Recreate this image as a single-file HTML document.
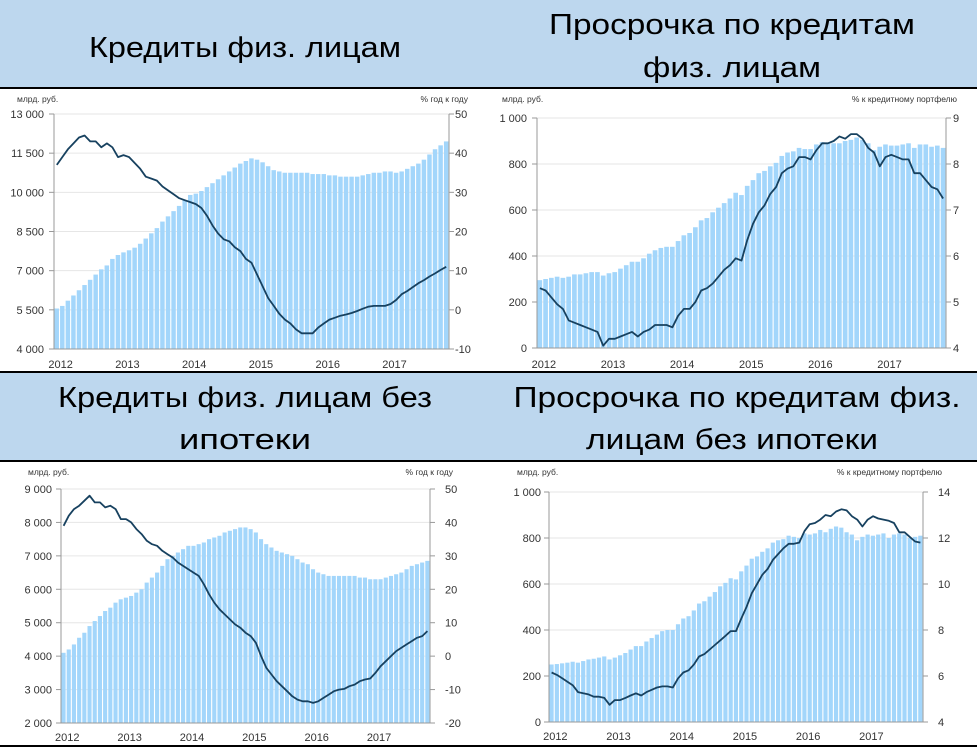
<!DOCTYPE html>
<html><head><meta charset="utf-8"><style>
html,body{margin:0;padding:0;background:#fff;}
svg{display:block;font-family:"Liberation Sans","DejaVu Sans",sans-serif;}
</style></head><body>
<svg id="root" width="977" height="747" viewBox="0 0 977 747" xmlns="http://www.w3.org/2000/svg">
<rect x="0" y="0" width="977" height="88" fill="#bdd7ee"/>
<rect x="0" y="372" width="977" height="89" fill="#bdd7ee"/>
<line x1="0" y1="88" x2="977" y2="88" stroke="#000" stroke-width="2"/>
<line x1="0" y1="372" x2="977" y2="372" stroke="#000" stroke-width="2"/>
<line x1="0" y1="461" x2="977" y2="461" stroke="#000" stroke-width="2"/>
<line x1="0" y1="746" x2="977" y2="746" stroke="#000" stroke-width="2"/>
<text x="245" y="57" font-size="29" text-anchor="middle" textLength="312" lengthAdjust="spacingAndGlyphs" fill="#000">Кредиты физ. лицам</text>
<text x="732" y="34" font-size="29" text-anchor="middle" textLength="366" lengthAdjust="spacingAndGlyphs" fill="#000">Просрочка по кредитам</text>
<text x="732" y="77" font-size="29" text-anchor="middle" textLength="178" lengthAdjust="spacingAndGlyphs" fill="#000">физ. лицам</text>
<text x="245" y="407" font-size="29" text-anchor="middle" textLength="374" lengthAdjust="spacingAndGlyphs" fill="#000">Кредиты физ. лицам без</text>
<text x="245" y="449" font-size="29" text-anchor="middle" textLength="132" lengthAdjust="spacingAndGlyphs" fill="#000">ипотеки</text>
<text x="737" y="407" font-size="29" text-anchor="middle" textLength="447" lengthAdjust="spacingAndGlyphs" fill="#000">Просрочка по кредитам физ.</text>
<text x="732" y="449" font-size="29" text-anchor="middle" textLength="292" lengthAdjust="spacingAndGlyphs" fill="#000">лицам без ипотеки</text>
</svg>
<script>
const years = ["2012","2013","2014","2015","2016","2017"];

const p1Bars = [5550,5650,5850,6050,6250,6450,6650,6850,7050,7200,7450,7600,
7700,7780,7880,8030,8230,8430,8630,8880,9080,9280,9480,9700,
9900,9950,10050,10200,10350,10500,10650,10800,10950,11100,11200,11300,
11250,11150,11000,10850,10800,10750,10750,10750,10750,10750,10700,10700,
10700,10650,10650,10600,10600,10600,10600,10650,10700,10750,10750,10800,
10800,10750,10800,10900,11000,11100,11250,11450,11650,11800,11950];
const p1Line = [37,39,41,42.5,44,44.5,43,43,41.5,42.5,41.5,39,
39.5,39,37.5,36,34,33.5,33,31.5,30.5,29.5,28.5,28,
27.5,27,26,24,21.5,19.5,18,17.5,16,15,13,12,
9,6,3,1,-1,-2.5,-3.5,-5,-6,-6,-6,-4.5,
-3.5,-2.5,-2,-1.5,-1.2,-0.8,-0.3,0.3,0.8,1,1,1,
1.5,2.5,4,4.8,5.8,6.8,7.6,8.5,9.3,10.2,11];
const p1LeftTicks = [4000,5500,7000,8500,10000,11500,13000];
const p1LeftLabels = ["4 000","5 500","7 000","8 500","10 000","11 500","13 000"];
const p1RightTicks = [-10,0,10,20,30,40,50];

const p2Bars = [295,300,305,310,305,310,320,320,325,330,330,315,
325,330,345,360,375,375,390,410,425,435,440,440,
465,490,500,525,555,565,590,610,630,650,675,665,
705,730,760,770,790,805,835,850,855,870,865,865,
885,895,890,890,890,900,905,915,905,890,860,875,
885,880,880,885,890,870,885,885,875,880,870];
const p2Line = [5.3,5.25,5.1,4.95,4.85,4.6,4.55,4.5,4.45,4.4,4.35,4.05,
4.2,4.2,4.25,4.3,4.35,4.25,4.35,4.4,4.5,4.5,4.5,4.45,
4.7,4.85,4.85,5.0,5.25,5.3,5.4,5.55,5.7,5.8,5.95,5.9,
6.35,6.7,6.95,7.1,7.35,7.5,7.8,7.9,7.95,8.15,8.15,8.1,
8.3,8.45,8.45,8.5,8.6,8.55,8.65,8.65,8.55,8.35,8.25,7.95,
8.15,8.2,8.15,8.1,8.1,7.8,7.8,7.65,7.5,7.45,7.25];
const p2LeftTicks = [0,200,400,600,800,1000];
const p2LeftLabels = ["0","200","400","600","800","1 000"];
const p2RightTicks = [4,5,6,7,8,9];

const p3Bars = [4100,4200,4350,4550,4700,4900,5050,5200,5350,5450,5600,5700,
5750,5800,5900,6000,6200,6350,6500,6700,6900,7000,7100,7200,
7300,7300,7350,7400,7500,7550,7600,7700,7750,7800,7850,7850,
7800,7700,7500,7350,7250,7150,7100,7050,7000,6900,6800,6750,
6600,6500,6450,6400,6400,6400,6400,6400,6400,6350,6350,6300,
6300,6300,6350,6400,6450,6500,6600,6700,6750,6800,6850];
const p3Line = [39,42,44,45,46.5,48,46,46,44.5,45,44,41,
41,40,38,36.5,34.5,33.5,33,31.5,30.5,29.5,28,27,
26,25,24,21.5,18.5,16,14,12.5,11,9.5,8.5,7,
6,4,0,-3.5,-5.5,-7.5,-9,-10.5,-12,-13,-13.5,-13.5,
-14,-13.5,-12.5,-11.5,-10.5,-10,-9.8,-9,-8.5,-7.5,-7,-6.7,
-5,-3,-1.5,0,1.5,2.5,3.5,4.5,5.5,6,7.5];
const p3LeftTicks = [2000,3000,4000,5000,6000,7000,8000,9000];
const p3LeftLabels = ["2 000","3 000","4 000","5 000","6 000","7 000","8 000","9 000"];
const p3RightTicks = [-20,-10,0,10,20,30,40,50];

const p4Bars = [250,252,255,258,262,258,265,272,275,280,285,272,
280,290,300,315,330,330,350,365,380,395,400,400,
425,450,460,485,515,525,545,565,590,605,625,620,
655,680,710,720,740,755,780,790,795,810,805,800,
820,815,820,835,825,840,850,845,825,815,790,805,
815,810,815,820,800,815,820,815,800,805,810];
const p4Line = [6.15,6.05,5.9,5.75,5.6,5.3,5.25,5.2,5.1,5.1,5.05,4.75,
4.95,4.95,5.05,5.15,5.25,5.15,5.3,5.4,5.5,5.55,5.55,5.5,
5.9,6.15,6.25,6.5,6.85,6.95,7.15,7.35,7.55,7.75,7.95,7.95,
8.5,9.0,9.6,10.0,10.4,10.65,11.05,11.3,11.55,11.75,11.75,11.8,
12.3,12.6,12.65,12.8,13.0,12.95,13.15,13.25,13.2,12.95,12.8,12.5,
12.8,12.95,12.85,12.8,12.75,12.65,12.25,12.25,12.05,11.85,11.8];
const p4LeftTicks = [0,200,400,600,800,1000];
const p4LeftLabels = ["0","200","400","600","800","1 000"];
const p4RightTicks = [4,6,8,10,12,14];

const NS = "http://www.w3.org/2000/svg";
const root = document.getElementById('root');
function mk(tag, attrs, parent){
  const e = document.createElementNS(NS, tag);
  for (const k in attrs) e.setAttribute(k, attrs[k]);
  parent.appendChild(e);
  return e;
}
function drawChart(c, bars, line, lt, ll, rt){
  const g = mk('g', {}, root);
  
  
  const n = bars.length;
  const bw = (c.x1 - c.x0) / n;
  const xB = i => c.x0 + i * bw;
  const yL = v => c.y1 - (v - c.lmin) / (c.lmax - c.lmin) * (c.y1 - c.y0);
  const yR = v => c.y1 - (v - c.rmin) / (c.rmax - c.rmin) * (c.y1 - c.y0);
  lt.forEach((t, i) => {
    const y = yL(t);
    if (i > 0) {
      const gl = mk('line', {x1:c.x0, x2:c.x1, y1:y, y2:y, stroke:'#e6e6e6', 'stroke-width':1}, g);
      
      
    }
    const tk = mk('line', {x1:c.x0-5, x2:c.x0, y1:y, y2:y, stroke:'#999', 'stroke-width':1}, g);
    
    
    const tx = mk('text', {x:c.lx, y:y+4, 'font-size':11, 'text-anchor':'end', fill:'#333'}, g);
    
    
    tx.textContent = ll[i];
  });
  rt.forEach(t => {
    const y = yR(t);
    const tk = mk('line', {x1:c.x1, x2:c.x1+5, y1:y, y2:y, stroke:'#999', 'stroke-width':1}, g);
    
    
    const tx = mk('text', {x:c.rx, y:y+4, 'font-size':11, fill:'#333'}, g);
    
    
    tx.textContent = String(t);
  });
  bars.forEach((v, i) => {
    const y = yL(v);
    const r = mk('rect', {x:xB(i)+0.5, y:y, width:bw-1.1, height:c.y1-y, fill:'#a3d6fb'}, g);
    
    
  });
  const pts = line.map((v, i) => (xB(i)+bw/2).toFixed(1) + ',' + yR(v).toFixed(1)).join(' ');
  const pl = mk('polyline', {points:pts, fill:'none', stroke:'#17415f', 'stroke-width':1.8, 'stroke-linejoin':'round'}, g);
  
  
  const al = mk('line', {x1:c.x0, x2:c.x0, y1:c.y0, y2:c.y1, stroke:'#999', 'stroke-width':1}, g);
  
  
  const ar = mk('line', {x1:c.x1, x2:c.x1, y1:c.y0, y2:c.y1, stroke:'#999', 'stroke-width':1}, g);
  
  
  const ab = mk('line', {x1:c.x0, x2:c.x1, y1:c.y1, y2:c.y1, stroke:'#999', 'stroke-width':1}, g);
  
  
  years.forEach((yr, k) => {
    const tx = mk('text', {x:xB(12*k)+bw*1.2, y:c.yy, 'font-size':11, 'text-anchor':'middle', fill:'#333'}, g);
    
    
    tx.textContent = yr;
  });
  const u1 = mk('text', {x:c.u1x, y:c.uy, 'font-size':8.5, fill:'#333'}, g);
  
  
  u1.textContent = 'млрд. руб.';
  const u2 = mk('text', {x:c.u2x, y:c.uy, 'font-size':8.5, 'text-anchor':'end', fill:'#333'}, g);
  
  
  u2.textContent = c.unit2;
}
drawChart({name:'chart-loans', x0:54, x1:449, y0:114, y1:349, lmin:4000, lmax:13000, rmin:-10, rmax:50, lx:44, rx:455, yy:368, u1x:17, u2x:468, uy:102, unit2:'% год к году'},
  p1Bars, p1Line, p1LeftTicks, p1LeftLabels, p1RightTicks);
drawChart({name:'chart-overdue', x0:537, x1:946, y0:118, y1:348, lmin:0, lmax:1000, rmin:4, rmax:9, lx:527, rx:953, yy:368, u1x:502, u2x:957, uy:102, unit2:'% к кредитному портфелю'},
  p2Bars, p2Line, p2LeftTicks, p2LeftLabels, p2RightTicks);
drawChart({name:'chart-loans-nomortgage', x0:61, x1:430, y0:489, y1:723, lmin:2000, lmax:9000, rmin:-20, rmax:50, lx:52, rx:445, yy:741, u1x:28, u2x:453, uy:475, unit2:'% год к году'},
  p3Bars, p3Line, p3LeftTicks, p3LeftLabels, p3RightTicks);
drawChart({name:'chart-overdue-nomortgage', x0:549, x1:923, y0:492, y1:722, lmin:0, lmax:1000, rmin:4, rmax:14, lx:541, rx:938, yy:740, u1x:517, u2x:942, uy:475, unit2:'% к кредитному портфелю'},
  p4Bars, p4Line, p4LeftTicks, p4LeftLabels, p4RightTicks);
</script>
</body></html>
